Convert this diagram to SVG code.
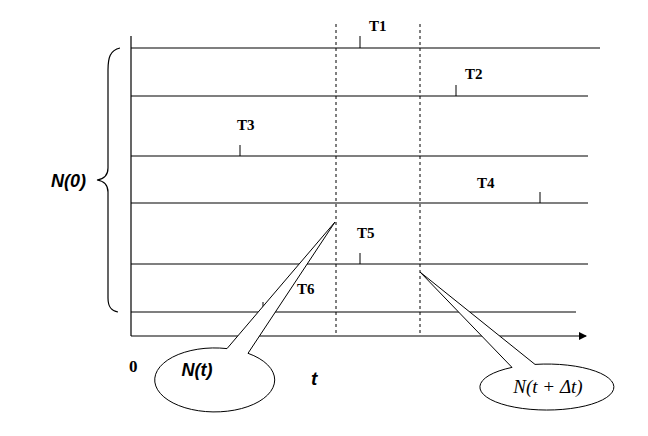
<svg xmlns="http://www.w3.org/2000/svg" width="648" height="436" viewBox="0 0 648 436">
<style>
.ln{stroke:#000;stroke-width:1.2;fill:none}
.dash{stroke:#000;stroke-width:1;stroke-dasharray:3,3;fill:none}
.tick{stroke:#000;stroke-width:1}
.lbl{font-family:"Liberation Serif",serif;font-weight:bold;font-size:15px;fill:#000}
.sans{font-family:"Liberation Sans",Arial,sans-serif;font-weight:bold;font-style:italic;fill:#000}
.call{fill:#fff;stroke:#000;stroke-width:1}
</style>
<defs>
<marker id="arr" markerWidth="8" markerHeight="8" refX="7" refY="4" orient="auto" markerUnits="userSpaceOnUse">
<path d="M0,0 L8,4 L0,8 Z" fill="#000"/>
</marker>
</defs>
<g id="axes">
<line class="ln" x1="131" y1="36" x2="131" y2="336"/>
<line class="ln" x1="131" y1="336" x2="586" y2="336" marker-end="url(#arr)"/>
<line class="ln" x1="131" y1="48" x2="600" y2="48"/>
<line class="ln" x1="131" y1="96" x2="588" y2="96"/>
<line class="ln" x1="131" y1="156" x2="588" y2="156"/>
<line class="ln" x1="131" y1="203" x2="588" y2="203"/>
<line class="ln" x1="131" y1="264" x2="588" y2="264"/>
<line class="ln" x1="131" y1="312" x2="576" y2="312"/>
</g>
<g id="time-marks">
<line class="dash" x1="336" y1="24" x2="336" y2="336"/>
<line class="dash" x1="420" y1="24" x2="420" y2="336"/>
</g>
<g id="brace">
<path class="ln" d="M120,48 C110,50 108,58 108,70 L108,168 C108,176 104,179 97,180 C104,181 108,184 108,192 L108,298 C108,308 112,311 118,312"/>
</g>
<g id="ticks">
<line class="tick" x1="360" y1="36" x2="360" y2="48"/>
<line class="tick" x1="456" y1="85" x2="456" y2="96"/>
<line class="tick" x1="240" y1="145" x2="240" y2="156"/>
<line class="tick" x1="540" y1="192" x2="540" y2="203"/>
<line class="tick" x1="360" y1="253" x2="360" y2="264"/>
<line class="tick" x1="263" y1="302" x2="263" y2="312"/>
</g>
<g id="labels">
<text class="lbl" x="369" y="31">T1</text>
<text class="lbl" x="465" y="79">T2</text>
<text class="lbl" x="237" y="130">T3</text>
<text class="lbl" x="477" y="188">T4</text>
<text class="lbl" x="357" y="238">T5</text>
<text class="lbl" x="297" y="294">T6</text>
<text class="sans" x="51" y="187" font-size="18">N(0)</text>
<text class="lbl" x="129" y="372" style="font-size:17px">0</text>
<text class="sans" x="311" y="385" font-size="19">t</text>
</g>
<g id="callout-nt">
<path class="call" d="M227,348.6 L335,222 L248,353.3 A60,32 0 1 1 227,348.6 Z"/>
<text class="sans" x="197" y="376" font-size="18" text-anchor="middle">N(t)</text>
</g>
<g id="callout-ntdt">
<path class="call" d="M512,367.4 L420,272 L535,364.4 A67,23 0 1 1 512,367.4 Z"/>
<text x="548" y="393" font-family="Liberation Serif,serif" font-style="italic" font-size="19" text-anchor="middle">N(t + Δt)</text>
</g>
</svg>
